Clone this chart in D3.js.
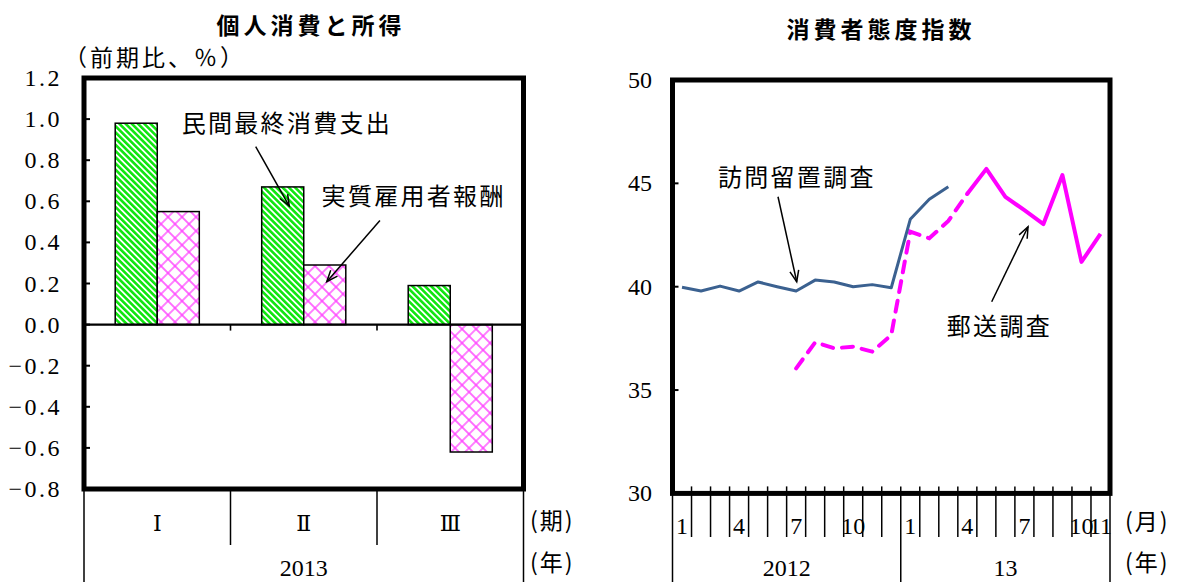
<!DOCTYPE html>
<html><head><meta charset="utf-8">
<script src="https://cdn.jsdelivr.net/npm/d3@7"></script>
<style>
body{margin:0;background:#fff}
svg{display:block}
.num{font-family:"Liberation Serif","DejaVu Serif",serif;font-size:24px;fill:#000}
.jp{font-family:"Noto Sans CJK JP",sans-serif;fill:#000}
</style></head><body>
<svg id="chart" width="1178" height="582"></svg>
<script>
// ---- 個人消費と所得 (quarterly, % q/q) ----
const quarters = ["Ⅰ", "Ⅱ", "Ⅲ"];
const quarterYear = "2013";
const consumption = [0.98, 0.67, 0.19];    // 民間最終消費支出
const compensation = [0.55, 0.29, -0.62];  // 実質雇用者報酬
const leftTicks = [1.2, 1.0, 0.8, 0.6, 0.4, 0.2, 0, -0.2, -0.4, -0.6, -0.8];

// ---- 消費者態度指数 (monthly, Jan 2012 - Nov 2013) ----
const monthLabels = ["1","","","4","","","7","","","10","","","1","","","4","","","7","","","10","11"];
const years = ["2012", "13"];
const yearStarts = [0, 12];
const visitSurvey = [39.97, 39.79, 40.03, 39.79, 40.23, 40.0, 39.79, 40.32, 40.23, 40.0, 40.1, 39.95, 43.26, 44.23, 44.84];
const visitStart = 0;   // Jan 2012
const mailTrial = [36.05, 37.31, 37.02, 37.1, 36.86, 37.66, 42.66, 42.34, 43.18, 44.5];
const mailTrialStart = 6;   // Jul 2012
const mailSurvey = [44.5, 45.7, 44.35, 43.7, 43.03, 45.4, 41.2, 42.55];
const mailStart = 15;   // Apr 2013
const rightTicks = [50, 45, 40, 35, 30];

const svg = d3.select("#chart");
const defs = svg.append("defs");

// diagonal green stripes
const stripe = defs.append("pattern").attr("id", "stripe")
  .attr("patternUnits", "userSpaceOnUse").attr("width", 4.4).attr("height", 4.4)
  .attr("patternTransform", "rotate(-45)");
stripe.append("rect").attr("width", 4.4).attr("height", 4.4).attr("fill", "#fff");
stripe.append("rect").attr("width", 2.6).attr("height", 4.4).attr("fill", "#0fe60f");

// magenta diamond lattice
const cross = defs.append("pattern").attr("id", "cross")
  .attr("patternUnits", "userSpaceOnUse").attr("width", 9.9).attr("height", 9.9)
  .attr("patternTransform", "rotate(45)");
cross.append("rect").attr("width", 9.9).attr("height", 9.9).attr("fill", "#fff");
cross.append("path").attr("d", "M0,4.95H9.9M4.95,0V9.9")
  .attr("stroke", "#ff3cff").attr("stroke-width", 1.3);

function arrow(g, x1, y1, x2, y2) {
  g.append("line").attr("x1", x1).attr("y1", y1).attr("x2", x2).attr("y2", y2)
    .attr("stroke", "#000").attr("stroke-width", 1.5);
  const a = Math.atan2(y2 - y1, x2 - x1), L = 12, s = 0.38;
  g.append("path")
    .attr("d", `M${x2 - L * Math.cos(a - s)},${y2 - L * Math.sin(a - s)}L${x2},${y2}L${x2 - L * Math.cos(a + s)},${y2 - L * Math.sin(a + s)}`)
    .attr("fill", "none").attr("stroke", "#000").attr("stroke-width", 1.5);
}

// ================= left panel =================
const L = {left: 84, right: 523.5, top: 78, bottom: 489};
const gl = svg.append("g");
const x0 = d3.scaleBand().domain(quarters).range([L.left, L.right]);
const x1 = d3.scaleBand().domain(["c", "w"])
  .range([x0.bandwidth() * 0.213, x0.bandwidth() * 0.787]);
const xi = d3.scaleLinear().domain([0, 3]).range([L.left, L.right]);
const yl = d3.scaleLinear().domain([-0.8, 1.2]).range([L.bottom, L.top]);

gl.append("text").attr("class", "jp").attr("x", 311).attr("y", 34)
  .attr("text-anchor", "middle").attr("font-size", 23).attr("font-weight", 700)
  .attr("letter-spacing", 4).text("個人消費と所得");
gl.append("text").attr("class", "jp").attr("x", 64).attr("y", 66)
  .attr("font-size", 23).attr("letter-spacing", 3).text("（前期比、％）");

// y tick labels
const fmt = d3.format(".1f");
gl.selectAll(".yl").data(leftTicks).join("text").attr("class", "num")
  .attr("x", 62).attr("y", d => yl(d) + 8).attr("text-anchor", "end")
  .attr("letter-spacing", 2.5).text(d => fmt(d));

// bars
const series = [{key: "c", vals: consumption, fill: "url(#stripe)"},
                {key: "w", vals: compensation, fill: "url(#cross)"}];
series.forEach(s => {
  gl.selectAll(null).data(s.vals).join("rect")
    .attr("x", (d, i) => x0(quarters[i]) + x1(s.key))
    .attr("width", x1.bandwidth())
    .attr("y", d => yl(Math.max(0, d)))
    .attr("height", d => Math.abs(yl(d) - yl(0)))
    .attr("fill", s.fill).attr("stroke", "#000").attr("stroke-width", 1.5);
});

// zero line and its ticks
gl.append("line").attr("x1", L.left).attr("x2", L.right).attr("y1", yl(0)).attr("y2", yl(0))
  .attr("stroke", "#000").attr("stroke-width", 2.2);
quarters.slice(1).forEach(q => {
  gl.append("line").attr("x1", x0(q)).attr("x2", x0(q)).attr("y1", yl(0)).attr("y2", yl(0) + 6)
    .attr("stroke", "#000").attr("stroke-width", 1.6);
});
// inner y ticks
leftTicks.slice(1, -1).forEach(t => {
  gl.append("line").attr("x1", L.left).attr("x2", L.left + 6).attr("y1", yl(t)).attr("y2", yl(t))
    .attr("stroke", "#000").attr("stroke-width", 2);
});

// category axis below
quarters.forEach((q, i) => {
  gl.append("text").attr("x", x0(q) + x0.bandwidth() / 2).attr("y", 531)
    .attr("text-anchor", "middle").attr("font-family", "'DejaVu Serif','Liberation Serif',serif")
    .attr("font-size", 22).text(q);
  if (i > 0) gl.append("line").attr("x1", x0(q)).attr("x2", x0(q)).attr("y1", L.bottom).attr("y2", 545)
    .attr("stroke", "#000").attr("stroke-width", 1.5);
});
[L.left, L.right].forEach(x => gl.append("line").attr("x1", x).attr("x2", x)
  .attr("y1", L.bottom).attr("y2", 582).attr("stroke", "#000").attr("stroke-width", 1.5));
gl.append("text").attr("class", "num").attr("x", (L.left + L.right) / 2).attr("y", 576)
  .attr("text-anchor", "middle").text(quarterYear);
gl.append("text").attr("class", "jp").attr("x", 530).attr("y", 529).attr("font-size", 23).attr("letter-spacing", 2).text("(期)");
gl.append("text").attr("class", "jp").attr("x", 530).attr("y", 571).attr("font-size", 23).attr("letter-spacing", 2).text("(年)");

// annotations
gl.append("text").attr("class", "jp").attr("x", xi(0.667)).attr("y", yl(0.98) + 9)
  .attr("font-size", 24).attr("letter-spacing", 2.3).text("民間最終消費支出");
arrow(gl, xi(1.172), yl(0.866), xi(1.401), yl(0.577));
gl.append("text").attr("class", "jp").attr("x", xi(1.622)).attr("y", yl(0.626) + 9)
  .attr("font-size", 24).attr("letter-spacing", 2.3).text("実質雇用者報酬");
arrow(gl, xi(2.02), yl(0.506), xi(1.657), yl(0.209));

gl.append("rect").attr("x", L.left).attr("y", L.top).attr("width", L.right - L.left)
  .attr("height", L.bottom - L.top).attr("fill", "none").attr("stroke", "#000").attr("stroke-width", 5);

// ================= right panel =================
const R = {left: 672.5, right: 1110, top: 80, bottom: 493.4};
const gr = svg.append("g");
const xr = d3.scaleLinear().domain([0, monthLabels.length]).range([R.left, R.right]);
const yr = d3.scaleLinear().domain([30, 50]).range([R.bottom, R.top]);

gr.append("text").attr("class", "jp").attr("x", 881).attr("y", 38)
  .attr("text-anchor", "middle").attr("font-size", 23).attr("font-weight", 700)
  .attr("letter-spacing", 4).text("消費者態度指数");

gr.selectAll(".yr").data(rightTicks).join("text").attr("class", "num")
  .attr("x", 652).attr("y", d => yr(d) + 8).attr("text-anchor", "end").text(d => d);
rightTicks.slice(1, -1).forEach(t => {
  gr.append("line").attr("x1", R.left).attr("x2", R.left + 6).attr("y1", yr(t)).attr("y2", yr(t))
    .attr("stroke", "#000").attr("stroke-width", 2);
});

// month axis
monthLabels.forEach((m, i) => {
  if (i > 0) gr.append("line").attr("x1", xr(i)).attr("x2", xr(i))
    .attr("y1", R.bottom - 7).attr("y2", yearStarts.includes(i) ? 582 : 537)
    .attr("stroke", "#000").attr("stroke-width", 1.5);
  if (m) gr.append("text").attr("class", "num").attr("x", xr(i + 0.5)).attr("y", 534)
    .attr("text-anchor", "middle").text(m);
});
[R.left, R.right].forEach(x => gr.append("line").attr("x1", x).attr("x2", x)
  .attr("y1", R.bottom).attr("y2", 582).attr("stroke", "#000").attr("stroke-width", 1.5));
years.forEach((y, i) => {
  const a = yearStarts[i], b = i + 1 < yearStarts.length ? yearStarts[i + 1] : monthLabels.length;
  gr.append("text").attr("class", "num").attr("x", xr((a + b) / 2)).attr("y", 576)
    .attr("text-anchor", "middle").text(y);
});
gr.append("text").attr("class", "jp").attr("x", 1125).attr("y", 530).attr("font-size", 23).attr("letter-spacing", 2).text("(月)");
gr.append("text").attr("class", "jp").attr("x", 1125).attr("y", 571).attr("font-size", 23).attr("letter-spacing", 2).text("(年)");

const line = d3.line().x(d => xr(d.m + 0.5)).y(d => yr(d.v));
const pts = (arr, start) => arr.map((v, i) => ({m: start + i, v}));
gr.append("path").datum(pts(mailTrial, mailTrialStart)).attr("d", line)
  .attr("fill", "none").attr("stroke", "#ff00ff").attr("stroke-width", 4)
  .attr("stroke-dasharray", "11,9").attr("stroke-linecap", "round");
gr.append("path").datum(pts(mailSurvey, mailStart)).attr("d", line)
  .attr("fill", "none").attr("stroke", "#ff00ff").attr("stroke-width", 4)
  .attr("stroke-linejoin", "round");
gr.append("path").datum(pts(visitSurvey, visitStart)).attr("d", line)
  .attr("fill", "none").attr("stroke", "#3b6190").attr("stroke-width", 3)
  .attr("stroke-linejoin", "round");

// annotations
gr.append("text").attr("class", "jp").attr("x", xr(2.39)).attr("y", yr(45.31) + 9)
  .attr("font-size", 24).attr("letter-spacing", 2.3).text("訪問留置調査");
arrow(gr, xr(5.547), yr(44.35), xr(6.53), yr(40.24));
gr.append("text").attr("class", "jp").attr("x", xr(14.42)).attr("y", yr(38.1) + 9)
  .attr("font-size", 24).attr("letter-spacing", 2.3).text("郵送調査");
arrow(gr, xr(16.78), yr(39.27), xr(18.69), yr(42.9));

gr.append("rect").attr("x", R.left).attr("y", R.top).attr("width", R.right - R.left)
  .attr("height", R.bottom - R.top).attr("fill", "none").attr("stroke", "#000").attr("stroke-width", 5);
</script>
</body></html>
